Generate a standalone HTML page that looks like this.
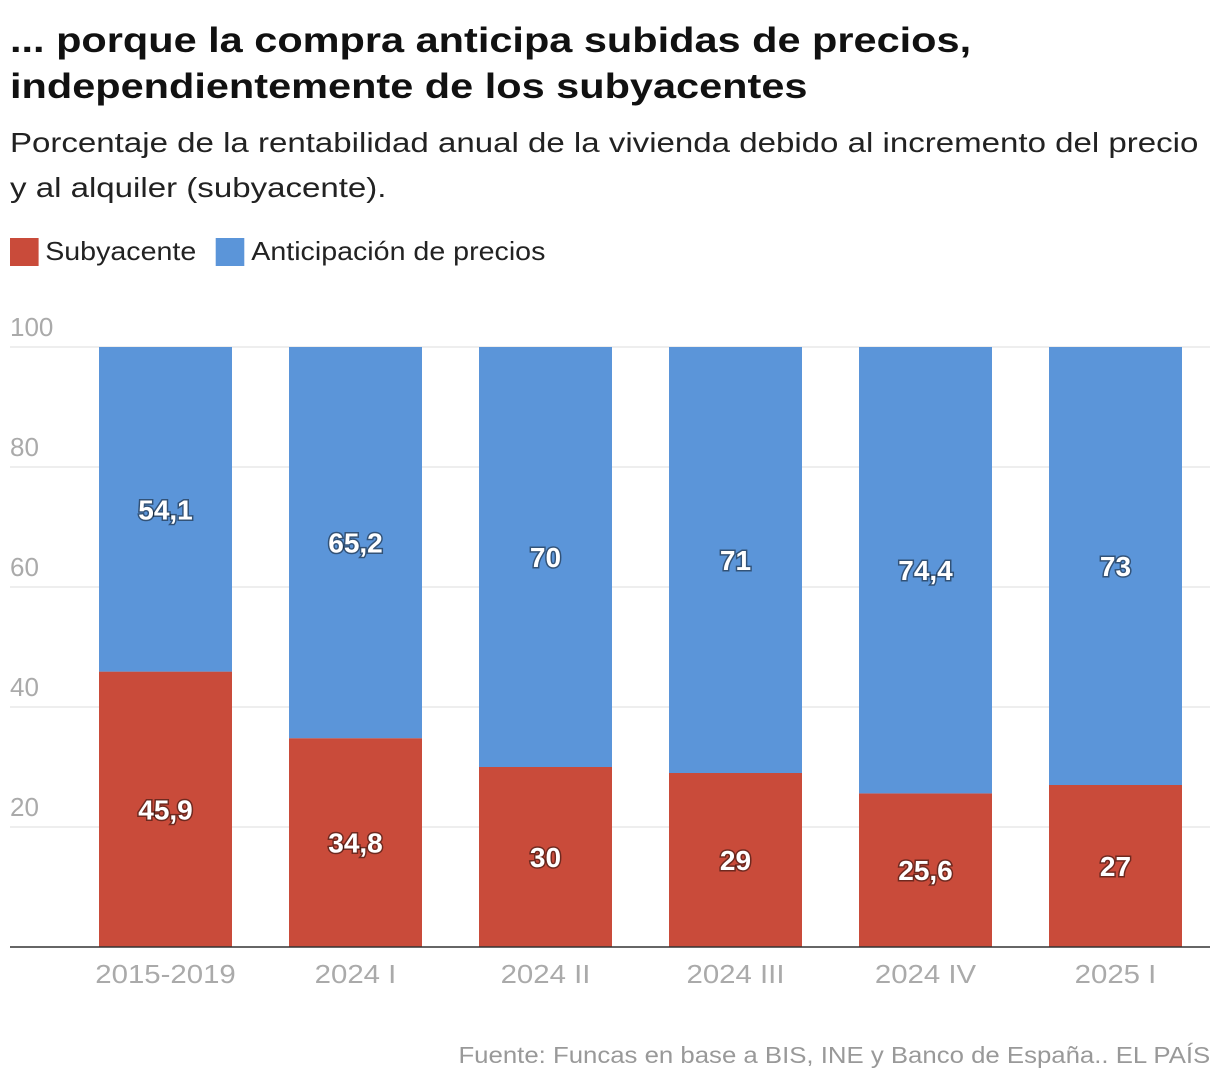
<!DOCTYPE html>
<html><head><meta charset="utf-8">
<style>
body{margin:0;width:1220px;height:1088px;background:#fff;font-family:"Liberation Sans",sans-serif;overflow:hidden;position:relative}
.t{position:absolute;left:10px;top:18px;font-size:35px;font-weight:bold;line-height:46px;color:#111;transform:scaleX(1.185);transform-origin:left top;white-space:nowrap}
.s{position:absolute;left:10px;top:120px;font-size:28px;line-height:45px;color:#222;transform:scaleX(1.18);transform-origin:left top;white-space:nowrap}
.lg{position:absolute;top:236px;left:10px;font-size:26px;color:#222;display:flex;align-items:center;transform:scaleX(1.1);transform-origin:left top;white-space:nowrap}
.sw{width:26px;height:28px;display:inline-block;margin-right:6px}
.src{position:absolute;right:10px;top:1042px;font-size:23px;color:#999;transform:scaleX(1.12);transform-origin:right top;white-space:nowrap}
</style></head><body>
<div class="t">... porque la compra anticipa subidas de precios,<br>independientemente de los subyacentes</div>
<div class="s">Porcentaje de la rentabilidad anual de la vivienda debido al incremento del precio<br>y al alquiler (subyacente).</div>
<div class="lg">
<span class="sw" style="background:#c94b3a"></span><span style="margin-right:18px">Subyacente</span>
<span class="sw" style="background:#5b95d9"></span><span>Anticipación de precios</span>
</div>
<svg id="c" width="1220" height="1088" style="position:absolute;left:0;top:0"></svg>
<div class="src">Fuente: Funcas en base a BIS, INE y Banco de España.. EL PAÍS</div>
<script>
const categories=["2015-2019","2024 I","2024 II","2024 III","2024 IV","2025 I"];
const subyacente=[45.9,34.8,30,29,25.6,27];
const anticipacion=[54.1,65.2,70,71,74.4,73];
const subLabels=["45,9","34,8","30","29","25,6","27"];
const antLabels=["54,1","65,2","70","71","74,4","73"];
const yTicks=[20,40,60,80,100];
const svg=document.getElementById('c');const NS="http://www.w3.org/2000/svg";
const y=v=>947-v*6;const band=190,x0=70.5,bw=133;
const xb=i=>x0+i*band+(band-bw)/2;
function mk(t,a,p){const e=document.createElementNS(NS,t);for(const k in a)e.setAttribute(k,a[k]);(p||svg).appendChild(e);return e;}
yTicks.forEach(v=>{
const l=mk('line',{x1:10,x2:1210,y1:y(v),y2:y(v),stroke:'#ddd','stroke-width':1});


const t=mk('text',{x:10,y:y(v)-11,'font-size':26,fill:'#aaa'});t.textContent=v;


});
categories.forEach((c,i)=>{
const r=mk('rect',{x:xb(i),y:y(subyacente[i]),width:bw,height:subyacente[i]*6,fill:'#c94b3a'});


const b=mk('rect',{x:xb(i),y:y(subyacente[i]+anticipacion[i]),width:bw,height:anticipacion[i]*6,fill:'#5b95d9'});


[[subLabels[i],subyacente[i]/2],[antLabels[i],subyacente[i]+anticipacion[i]/2]].forEach(([s,m],k)=>{
const t=mk('text',{x:xb(i)+bw/2,y:y(m)+10,'font-size':28,'font-weight':'bold',fill:'#fff','text-anchor':'middle',style:'paint-order:stroke;stroke:rgba(0,0,0,0.45);stroke-width:3px'});
t.textContent=s;


});
const cx=xb(i)+bw/2;
const t=mk('text',{x:0,y:983,'font-size':26,fill:'#aaa','text-anchor':'middle',transform:'translate('+cx+',0) scale(1.13,1)'});t.textContent=c;


});
const ax=mk('line',{x1:10,x2:1210,y1:947,y2:947,stroke:'#333','stroke-width':1.5});


</script>
</body></html>
